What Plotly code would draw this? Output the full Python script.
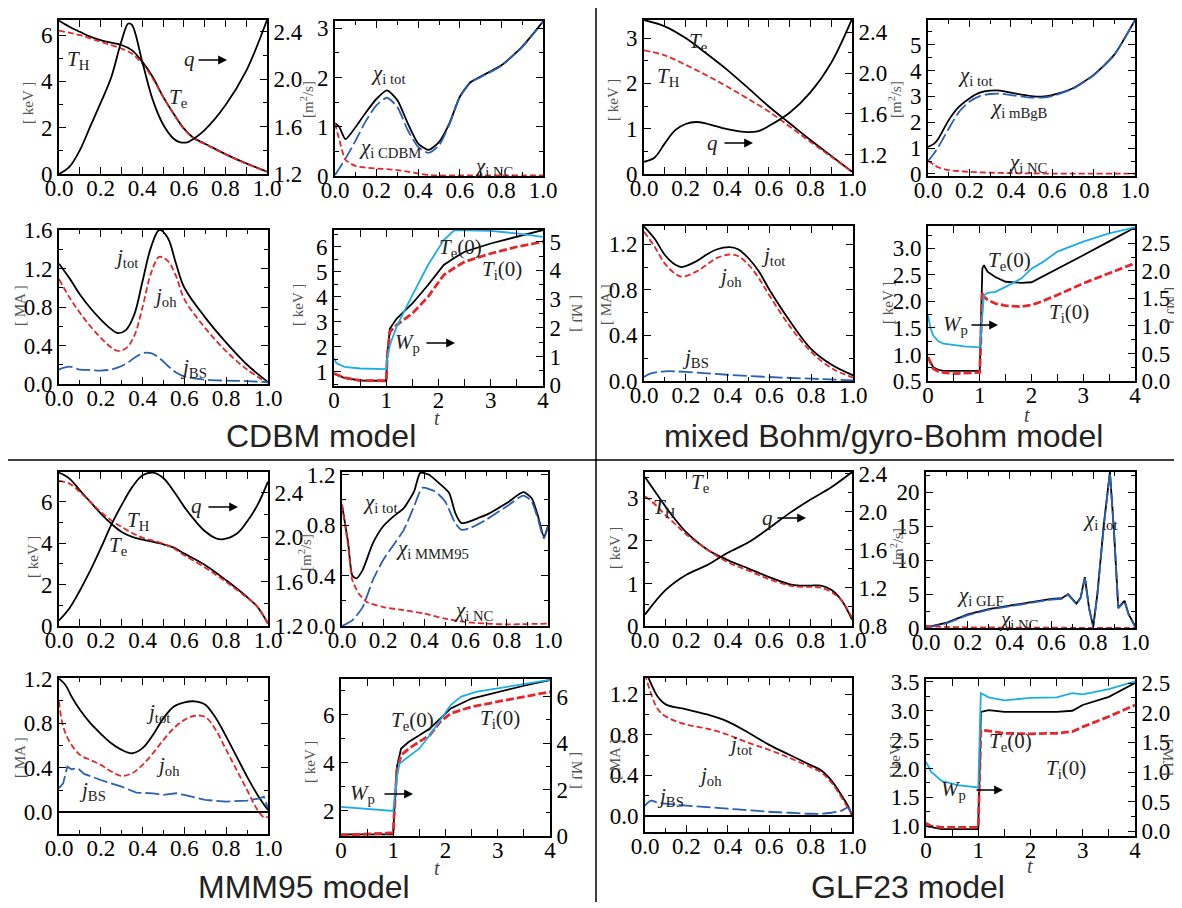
import plotly.graph_objs as go

W, H = 1182, 908
OFF = 8  # page body margin of the html page

BLACK = 'black'
RED = '#e5262b'
BLUE = '#2b5fb4'
CYAN = '#1aaee6'
SERIF = 'Liberation Serif, Times New Roman, serif'
SANS = 'Liberation Sans, Arial, sans-serif'

'''
DATA: read off the picture
'''
# ---- CDBM model ----
cdbm_rho_T = [0, 0.05, 0.1, 0.15, 0.2, 0.25, 0.3, 0.35, 0.4, 0.45, 0.5, 0.55, 0.6, 0.65, 0.7, 0.8, 0.9, 1.0]
cdbm_Te = [6.62, 6.36, 6.14, 5.93, 5.78, 5.67, 5.57, 5.35, 4.85, 4.2, 3.34, 2.62, 1.97, 1.54, 1.32, 0.86, 0.46, 0.1]
cdbm_TH = [6.19, 6.1, 6.0, 5.86, 5.71, 5.57, 5.42, 5.2, 4.78, 4.13, 3.34, 2.6, 1.95, 1.52, 1.3, 0.85, 0.45, 0.1]
cdbm_rho_q = [0, 0.05, 0.1, 0.15, 0.2, 0.25, 0.3, 0.333, 0.35, 0.4, 0.45, 0.5, 0.55, 0.58, 0.62, 0.65, 0.7, 0.8, 0.9, 1.0]
cdbm_q = [1.2, 1.26, 1.4, 1.6, 1.8, 2.01, 2.32, 2.47, 2.46, 2.15, 1.83, 1.62, 1.5, 1.47, 1.47, 1.5, 1.57, 1.78, 2.07, 2.5]

cdbm_rho_chi = [0, 0.02, 0.05, 0.1, 0.15, 0.2, 0.25, 0.3, 0.35, 0.4, 0.45, 0.5, 0.55, 0.6, 0.65, 0.7, 0.8, 0.9, 1.0]
cdbm_chi_tot = [1.07, 1.0, 0.75, 1.0, 1.3, 1.57, 1.74, 1.54, 1.07, 0.66, 0.53, 0.69, 1.07, 1.61, 1.9, 2.02, 2.25, 2.63, 3.14]
cdbm_chi_model = [0.02, 0.15, 0.35, 0.73, 1.13, 1.44, 1.59, 1.4, 0.93, 0.59, 0.47, 0.62, 1.05, 1.6, 1.89, 2.01, 2.24, 2.62, 3.13]
cdbm_chi_nc = [1.07, 0.75, 0.33, 0.2, 0.17, 0.15, 0.14, 0.12, 0.09, 0.05, 0.02, 0.01, 0.01, 0.01, 0.01, 0.01, 0.01, 0.01, 0.01]

cdbm_rho_j = [0, 0.05, 0.1, 0.15, 0.2, 0.25, 0.28, 0.32, 0.36, 0.4, 0.44, 0.48, 0.52, 0.56, 0.6, 0.7, 0.8, 0.9, 1.0]
cdbm_jtot = [1.25, 1.1, 0.93, 0.79, 0.67, 0.57, 0.53, 0.56, 0.72, 1.07, 1.42, 1.6, 1.52, 1.25, 1.0, 0.69, 0.43, 0.2, 0.02]
cdbm_joh = [1.09, 0.9, 0.74, 0.6, 0.48, 0.38, 0.345, 0.37, 0.5, 0.8, 1.15, 1.32, 1.28, 1.12, 0.88, 0.58, 0.34, 0.15, 0.01]
cdbm_jbs = [0.15, 0.18, 0.15, 0.145, 0.14, 0.15, 0.17, 0.21, 0.27, 0.32, 0.32, 0.27, 0.19, 0.12, 0.08, 0.045, 0.035, 0.03, 0.02]

cdbm_t = [0, 0.05, 0.2, 0.5, 1.0, 1.02, 1.07, 1.2, 1.5, 1.8, 2.1, 2.3, 2.5, 3.0, 3.5, 4.0]
cdbm_Te0 = [0.93, 0.88, 0.75, 0.65, 0.64, 1.67, 2.73, 3.13, 3.73, 4.47, 5.27, 5.55, 5.8, 6.13, 6.4, 6.67]
cdbm_Ti0 = [0.93, 0.88, 0.76, 0.65, 0.64, 1.67, 2.6, 2.87, 3.33, 4.0, 4.87, 5.15, 5.4, 5.73, 6.0, 6.2]
cdbm_Wp = [0.93, 0.76, 0.64, 0.58, 0.56, 0.93, 1.4, 2.05, 3.14, 4.19, 5.06, 5.4, 5.4, 5.38, 5.29, 5.17]

# ---- mixed Bohm/gyro-Bohm model ----
mbgb_rho_T = [0, 0.1, 0.2, 0.3, 0.4, 0.5, 0.6, 0.7, 0.8, 0.9, 1.0]
mbgb_Te = [3.4, 3.26, 3.0, 2.66, 2.3, 1.9, 1.49, 1.12, 0.75, 0.4, 0.05]
mbgb_TH = [2.73, 2.62, 2.41, 2.18, 1.93, 1.66, 1.38, 1.05, 0.71, 0.38, 0.05]
mbgb_rho_q = [0, 0.05, 0.1, 0.15, 0.2, 0.25, 0.3, 0.4, 0.5, 0.55, 0.6, 0.7, 0.8, 0.9, 1.0]
mbgb_q = [1.13, 1.17, 1.31, 1.44, 1.5, 1.52, 1.505, 1.45, 1.42, 1.43, 1.48, 1.61, 1.81, 2.1, 2.53]

mbgb_rho_chi = [0, 0.03, 0.05, 0.1, 0.15, 0.2, 0.25, 0.3, 0.35, 0.4, 0.5, 0.55, 0.6, 0.7, 0.8, 0.9, 1.0]
mbgb_chi_tot = [1.04, 1.17, 1.36, 2.08, 2.6, 2.92, 3.14, 3.22, 3.22, 3.14, 3.01, 2.99, 3.05, 3.31, 3.83, 4.61, 5.95]
mbgb_chi_model = [0.49, 0.8, 1.04, 1.75, 2.4, 2.79, 3.01, 3.09, 3.1, 3.05, 2.95, 2.95, 3.01, 3.29, 3.81, 4.6, 5.94]
mbgb_chi_nc = [0.5, 0.35, 0.25, 0.15, 0.11, 0.08, 0.06, 0.05, 0.04, 0.03, 0.02, 0.02, 0.01, 0.01, 0.01, 0.01, 0.01]

mbgb_rho_j = [0, 0.05, 0.1, 0.15, 0.18, 0.25, 0.3, 0.35, 0.41, 0.45, 0.5, 0.55, 0.6, 0.7, 0.8, 0.9, 1.0]
mbgb_jtot = [1.356, 1.25, 1.106, 1.02, 1.0, 1.05, 1.11, 1.156, 1.174, 1.156, 1.077, 0.96, 0.8, 0.52, 0.28, 0.14, 0.05]
mbgb_joh = [1.31, 1.18, 1.03, 0.94, 0.915, 0.96, 1.02, 1.08, 1.11, 1.097, 1.02, 0.9, 0.75, 0.475, 0.255, 0.11, 0.03]
mbgb_rho_jbs = [0, 0.03, 0.1, 0.2, 0.4, 0.6, 0.8, 1.0]
mbgb_jbs = [0.035, 0.065, 0.085, 0.08, 0.055, 0.035, 0.02, 0.006]

mbgb_t = [0, 0.05, 0.1, 0.2, 0.3, 0.5, 0.7, 1.0, 1.05, 1.08, 1.15, 1.3, 1.5, 1.8, 2.0, 2.2, 2.5, 3.0, 3.5, 4.0]
mbgb_Te0 = [0.95, 0.85, 0.76, 0.71, 0.69, 0.69, 0.69, 0.69, 2.62, 2.68, 2.56, 2.46, 2.37, 2.35, 2.36, 2.46, 2.62, 2.87, 3.13, 3.39]
mbgb_Ti0 = [0.95, 0.84, 0.73, 0.68, 0.66, 0.64, 0.65, 0.66, 2.18, 2.09, 2.03, 1.96, 1.92, 1.9, 1.93, 2.0, 2.12, 2.34, 2.53, 2.72]
mbgb_Wp = [1.195, 0.95, 0.83, 0.72, 0.68, 0.65, 0.63, 0.61, 1.32, 1.55, 1.6, 1.62, 1.71, 1.86, 2.04, 2.15, 2.35, 2.53, 2.68, 2.79]

# ---- MMM95 model ----
mmm_rho_T = [0, 0.05, 0.1, 0.15, 0.2, 0.25, 0.3, 0.35, 0.4, 0.5, 0.55, 0.6, 0.7, 0.8, 0.9, 0.95, 1.0]
mmm_Te = [7.42, 7.13, 6.56, 6.0, 5.44, 4.95, 4.55, 4.31, 4.18, 3.95, 3.79, 3.5, 2.94, 2.21, 1.4, 0.92, 0.11]
mmm_TH = [7.02, 6.89, 6.48, 6.0, 5.52, 5.11, 4.79, 4.5, 4.27, 3.98, 3.75, 3.42, 2.82, 2.13, 1.37, 0.92, 0.11]
mmm_rho_q = [0, 0.05, 0.1, 0.15, 0.2, 0.25, 0.3, 0.35, 0.4, 0.45, 0.5, 0.55, 0.6, 0.65, 0.7, 0.75, 0.78, 0.85, 0.9, 0.95, 1.0]
mmm_q = [1.25, 1.36, 1.52, 1.7, 1.9, 2.11, 2.29, 2.45, 2.556, 2.58, 2.53, 2.41, 2.27, 2.15, 2.05, 1.99, 1.98, 2.03, 2.14, 2.29, 2.5]

mmm_rho_chi = [0, 0.03, 0.05, 0.07, 0.1, 0.15, 0.2, 0.25, 0.3, 0.35, 0.38, 0.42, 0.47, 0.52, 0.55, 0.58, 0.62, 0.66, 0.7, 0.8, 0.88, 0.92, 0.95, 0.98, 1.0]
mmm_chi_tot = [0.96, 0.656, 0.4, 0.377, 0.443, 0.656, 0.79, 0.868, 0.934, 1.067, 1.213, 1.2, 1.133, 1.054, 0.895, 0.815, 0.828, 0.855, 0.88, 0.974, 1.06, 1.014, 0.88, 0.709, 0.79]
mmm_rho_chi_model = [0, 0.05, 0.1, 0.15, 0.2, 0.25, 0.3, 0.35, 0.39, 0.45, 0.5, 0.55, 0.58, 0.62, 0.7, 0.8, 0.88, 0.92, 0.95, 0.98, 1.0]
mmm_chi_model = [0, 0.045, 0.15, 0.364, 0.523, 0.642, 0.762, 0.948, 1.094, 1.067, 0.988, 0.815, 0.762, 0.775, 0.842, 0.948, 1.033, 0.988, 0.855, 0.695, 0.79]
mmm_rho_chi_nc = [0, 0.03, 0.05, 0.08, 0.12, 0.2, 0.3, 0.4, 0.5, 0.6, 0.7, 0.8, 1.0]
mmm_chi_nc = [0.96, 0.63, 0.364, 0.26, 0.19, 0.15, 0.125, 0.098, 0.058, 0.032, 0.019, 0.013, 0.019]

mmm_rho_j = [0, 0.03, 0.06, 0.1, 0.15, 0.2, 0.25, 0.3, 0.35, 0.4, 0.45, 0.5, 0.55, 0.6, 0.65, 0.7, 0.75, 0.8, 0.85, 0.9, 0.95, 1.0]
mmm_jtot = [1.2, 1.146, 1.04, 0.92, 0.8, 0.705, 0.62, 0.56, 0.53, 0.576, 0.696, 0.846, 0.95, 0.987, 0.996, 0.966, 0.846, 0.68, 0.5, 0.32, 0.156, 0.02]
mmm_rho_joh = [0, 0.02, 0.05, 0.1, 0.15, 0.2, 0.25, 0.3, 0.35, 0.4, 0.45, 0.5, 0.55, 0.6, 0.65, 0.7, 0.75, 0.8, 0.85, 0.9, 0.95, 0.98, 1.0]
mmm_joh = [0.996, 0.77, 0.636, 0.516, 0.47, 0.426, 0.366, 0.327, 0.351, 0.426, 0.531, 0.65, 0.756, 0.83, 0.867, 0.855, 0.74, 0.56, 0.38, 0.2, 0.02, -0.045, -0.04]
mmm_rho_jbs = [0, 0.02, 0.04, 0.06, 0.09, 0.12, 0.2, 0.3, 0.37, 0.45, 0.5, 0.56, 0.6, 0.7, 0.8, 0.9, 0.96, 0.98, 1.0]
mmm_jbs = [0.216, 0.26, 0.41, 0.387, 0.396, 0.345, 0.29, 0.23, 0.177, 0.17, 0.156, 0.171, 0.156, 0.111, 0.096, 0.105, 0.126, 0.141, 0.036]

mmm_t = [0, 0.5, 1.0, 1.02, 1.07, 1.15, 1.3, 1.5, 1.7, 1.9, 2.1, 2.5, 3.0, 3.5, 4.0]
mmm_Te0 = [1.03, 1.03, 1.03, 2.03, 3.83, 4.59, 4.87, 5.14, 5.42, 5.83, 6.25, 6.66, 6.94, 7.19, 7.43]
mmm_Ti0 = [0.99, 1.03, 1.09, 1.96, 3.69, 4.31, 4.59, 4.87, 5.14, 5.7, 6.04, 6.32, 6.53, 6.73, 6.94]
mmm_t_Wp = [0, 0.5, 1.0, 1.02, 1.07, 1.12, 1.3, 1.5, 1.7, 1.9, 2.1, 2.3, 2.6, 3.0, 3.5, 4.0]
mmm_Wp = [1.25, 1.15, 1.08, 1.54, 2.55, 3.12, 3.41, 3.77, 4.35, 4.99, 5.64, 6.0, 6.22, 6.36, 6.55, 6.72]

# ---- GLF23 model ----
glf_rho_T = [0, 0.05, 0.1, 0.15, 0.2, 0.3, 0.4, 0.5, 0.6, 0.7, 0.75, 0.8, 0.85, 0.9, 0.95, 1.0]
glf_Te = [3.5, 3.15, 2.8, 2.48, 2.2, 1.8, 1.55, 1.35, 1.15, 0.98, 0.95, 0.95, 0.95, 0.85, 0.6, 0.15]
glf_TH = [3.05, 2.85, 2.6, 2.38, 2.15, 1.8, 1.5, 1.3, 1.1, 0.95, 0.92, 0.92, 0.9, 0.8, 0.6, 0.2]
glf_rho_q = [0, 0.1, 0.2, 0.3, 0.4, 0.5, 0.6, 0.7, 0.8, 0.9, 1.0]
glf_q = [0.92, 1.18, 1.34, 1.44, 1.57, 1.68, 1.83, 1.99, 2.13, 2.26, 2.42]

glf_rho_chi = [0, 0.05, 0.1, 0.2, 0.3, 0.4, 0.5, 0.6, 0.65, 0.68, 0.72, 0.74, 0.76, 0.78, 0.8, 0.82, 0.85, 0.88, 0.9, 0.92, 0.95, 0.97, 1.0]
glf_chi_tot = [0.1, 0.4, 0.8, 2.0, 2.8, 3.3, 3.8, 4.3, 4.4, 5.0, 3.6, 4.5, 7.5, 3.0, 0.2, 5.0, 15.0, 23.0, 14.0, 3.0, 4.0, 2.0, 0.3]
glf_chi_model = [0.0, 0.3, 0.7, 1.9, 2.7, 3.2, 3.7, 4.2, 4.3, 4.9, 3.5, 4.4, 7.4, 2.9, 0.1, 4.9, 14.9, 22.9, 13.9, 2.9, 3.9, 1.9, 0.2]
glf_chi_nc = [0.3, 0.2, 0.15, 0.1, 0.08, 0.06, 0.05, 0.04, 0.04, 0.03, 0.03, 0.03, 0.03, 0.03, 0.03, 0.03, 0.03, 0.03, 0.03, 0.03, 0.03, 0.03, 0.03]

glf_rho_j = [0, 0.03, 0.06, 0.1, 0.2, 0.3, 0.4, 0.5, 0.6, 0.7, 0.8, 0.85, 0.9, 0.95, 0.98, 1.0]
glf_jtot = [1.45, 1.3, 1.18, 1.1, 1.05, 1.0, 0.93, 0.82, 0.7, 0.6, 0.5, 0.45, 0.35, 0.2, 0.1, 0.0]
glf_joh = [1.4, 1.2, 1.06, 0.98, 0.9, 0.86, 0.8, 0.72, 0.65, 0.57, 0.48, 0.43, 0.33, 0.18, 0.08, 0.02]
glf_jbs = [0.1, 0.15, 0.13, 0.12, 0.1, 0.085, 0.07, 0.055, 0.04, 0.03, 0.02, 0.02, 0.03, 0.05, 0.08, 0.0]

glf_t = [0, 0.1, 0.3, 0.6, 1.0, 1.05, 1.2, 1.5, 2.0, 2.5, 2.8, 3.0, 3.5, 4.0]
glf_Te0 = [1.0, 0.98, 0.95, 0.95, 0.95, 2.98, 3.01, 2.98, 2.98, 2.98, 3.0, 3.1, 3.24, 3.48]
glf_Ti0 = [1.05, 1.0, 0.98, 0.98, 0.98, 2.67, 2.65, 2.61, 2.6, 2.61, 2.64, 2.72, 2.9, 3.1]
glf_Wp = [1.17, 1.0, 0.85, 0.78, 0.74, 2.33, 2.26, 2.21, 2.25, 2.26, 2.33, 2.31, 2.4, 2.53]


def X(px):
    return (px - OFF) / W


def Y(py):
    return 1 - (py - OFF) / H


'''
LAYOUT: 16 panels, boxes in pixels (left, top, right, bottom)
'''
boxes = [
    (59, 20, 267, 174), (335, 21, 543, 176), (59, 230, 268, 384), (334, 230, 543, 386),
    (644, 20, 852, 174), (928, 20, 1135, 176), (644, 226, 853, 381), (928, 226, 1135, 381),
    (59, 472, 268, 626), (342, 472, 548, 626), (59, 678, 268, 834), (341, 679, 550, 836),
    (645, 472, 852, 626), (926, 472, 1135, 628), (645, 678, 852, 832), (926, 679, 1135, 836),
]
kinds = ['T', 'chi', 'j', 't'] * 4

# y axis settings: (range, dtick, minor, format)
yleft = [
    ([0, 6.65], 2, 1, 'd'), ([0, 3.15], 1, 0.5, 'd'), ([0, 1.6], 0.4, 0.2, '.1f'), ([0.43, 6.67], 1, 0.5, 'd'),
    ([0, 3.4], 1, 0.5, 'd'), ([-0.08, 5.95], 1, 0.5, 'd'), ([0, 1.36], 0.4, 0.2, '.1f'), ([0.5, 3.42], 0.5, 0.25, '.1f'),
    ([0, 7.45], 2, 1, 'd'), ([0, 1.22], 0.4, 0.2, '.1f'), ([-0.195, 1.206], 0.4, 0.2, '.1f'), ([0.96, 7.47], 2, 1, 'd'),
    ([0, 3.62], 1, 0.5, 'd'), ([0, 23], 5, 2.5, 'd'), ([-0.16, 1.36], 0.4, 0.2, '.1f'), ([0.83, 3.55], 0.5, 0.25, '.1f'),
]
yright = {
    0: ([1.2, 2.5], 0.4, 0.2, '.1f'), 3: ([-0.03, 5.41], 1, 0.5, 'd'),
    4: ([1.01, 2.52], 0.4, 0.2, '.1f'), 7: ([0, 2.815], 0.5, 0.25, '.1f'),
    8: ([1.2, 2.586], 0.4, 0.2, '.1f'), 11: ([0, 6.76], 2, 1, 'd'),
    12: ([0.8, 2.42], 0.4, 0.2, '.1f'), 15: ([-0.08, 2.57], 0.5, 0.25, '.1f'),
}
zero_line_panels = [10, 14]

tickfont = dict(family=SERIF, size=23, color='black')


def base_axis():
    return dict(showline=True, linecolor='black', linewidth=2, ticks='inside', ticklen=7,
                tickwidth=1.3, tickcolor='black', showgrid=False, zeroline=False, tickfont=tickfont,
                automargin=False)


layout = dict(width=W, height=H, margin=dict(l=0, r=0, t=0, b=0, pad=0, autoexpand=False),
              paper_bgcolor='white', plot_bgcolor='rgba(0,0,0,0)', showlegend=False, hovermode=False)

sec_id = {}
n_sec = 16
for i, (l, t, r, b) in enumerate(boxes):
    k = i + 1
    sx = '' if k == 1 else str(k)
    xa = base_axis()
    if kinds[i] == 't':
        xa.update(range=[0, 4], dtick=1, tick0=0, tickformat='d',
                  minor=dict(dtick=0.5, ticks='inside', ticklen=4, tickcolor='black'))
    else:
        xa.update(range=[0, 1.0], dtick=0.2, tick0=0, tickformat='.1f',
                  minor=dict(dtick=0.1, ticks='inside', ticklen=4, tickcolor='black'))
    xa.update(domain=[X(l), X(r)], anchor='y' + sx, mirror='allticks', ticklabelstandoff=-8)
    layout['xaxis' + sx] = xa

    rng, dt, mn, fmt = yleft[i]
    ya = base_axis()
    ya.update(domain=[Y(b), Y(t)], anchor='x' + sx, range=rng, dtick=dt, tick0=0,
              tickformat=fmt, minor=dict(dtick=mn, ticks='inside', ticklen=4, tickcolor='black'),
              mirror=False if i in yright else 'allticks')
    if i in zero_line_panels:
        ya.update(zeroline=True, zerolinecolor='black', zerolinewidth=1.5)
    layout['yaxis' + sx] = ya

    if i in yright:
        n_sec += 1
        sec_id[i] = n_sec
        rng, dt, mn, fmt = yright[i]
        ys = base_axis()
        ys.update(overlaying='y' + sx, side='right', anchor='x' + sx, range=rng, dtick=dt, tick0=0,
                  tickformat=fmt, minor=dict(dtick=mn, ticks='inside', ticklen=4, tickcolor='black'))
        layout['yaxis' + str(n_sec)] = ys

fig = go.Figure(layout=layout)

SHORT = '6px,3px'
LONG = '14px,4px'
THICK = '8px,3px'


def add(panel, x, y, color, dash='solid', width=1.8, right=False, shape='spline', smooth=1.0):
    k = panel + 1
    xa = 'x' if k == 1 else 'x' + str(k)
    if right:
        ya = 'y' + str(sec_id[panel])
    else:
        ya = 'y' if k == 1 else 'y' + str(k)
    line = dict(color=color, dash=dash, width=width, shape=shape)
    if shape == 'spline':
        line['smoothing'] = smooth
    fig.add_trace(go.Scatter(x=x, y=y, mode='lines', line=line, xaxis=xa, yaxis=ya))


# each model: panel offset, data
models = [
    (0, cdbm_rho_T, cdbm_Te, cdbm_TH, cdbm_rho_q, cdbm_q,
     cdbm_rho_chi, cdbm_chi_tot, cdbm_rho_chi, cdbm_chi_model, cdbm_rho_chi, cdbm_chi_nc,
     cdbm_rho_j, cdbm_jtot, cdbm_rho_j, cdbm_joh, cdbm_rho_j, cdbm_jbs,
     cdbm_t, cdbm_Te0, cdbm_t, cdbm_Ti0, cdbm_t, cdbm_Wp),
    (4, mbgb_rho_T, mbgb_Te, mbgb_TH, mbgb_rho_q, mbgb_q,
     mbgb_rho_chi, mbgb_chi_tot, mbgb_rho_chi, mbgb_chi_model, mbgb_rho_chi, mbgb_chi_nc,
     mbgb_rho_j, mbgb_jtot, mbgb_rho_j, mbgb_joh, mbgb_rho_jbs, mbgb_jbs,
     mbgb_t, mbgb_Te0, mbgb_t, mbgb_Ti0, mbgb_t, mbgb_Wp),
    (8, mmm_rho_T, mmm_Te, mmm_TH, mmm_rho_q, mmm_q,
     mmm_rho_chi, mmm_chi_tot, mmm_rho_chi_model, mmm_chi_model, mmm_rho_chi_nc, mmm_chi_nc,
     mmm_rho_j, mmm_jtot, mmm_rho_joh, mmm_joh, mmm_rho_jbs, mmm_jbs,
     mmm_t, mmm_Te0, mmm_t, mmm_Ti0, mmm_t_Wp, mmm_Wp),
    (12, glf_rho_T, glf_Te, glf_TH, glf_rho_q, glf_q,
     glf_rho_chi, glf_chi_tot, glf_rho_chi, glf_chi_model, glf_rho_chi, glf_chi_nc,
     glf_rho_j, glf_jtot, glf_rho_j, glf_joh, glf_rho_j, glf_jbs,
     glf_t, glf_Te0, glf_t, glf_Ti0, glf_t, glf_Wp),
]

for m in models:
    p = m[0]
    chi_shape = 'linear' if p == 12 else 'spline'
    # temperatures and q
    add(p, m[1], m[2], BLACK)
    add(p, m[4], m[5], BLACK, right=True)
    add(p, m[1], m[3], RED, dash=SHORT)
    # diffusivities
    add(p + 1, m[6], m[7], BLACK, shape=chi_shape, smooth=0.6)
    add(p + 1, m[8], m[9], BLUE, dash=LONG, shape=chi_shape, smooth=0.6)
    add(p + 1, m[10], m[11], RED, dash=SHORT, smooth=0.6)
    # currents
    add(p + 2, m[12], m[13], BLACK)
    add(p + 2, m[14], m[15], RED, dash=SHORT)
    add(p + 2, m[16], m[17], BLUE, dash=LONG, shape='linear' if p == 8 else 'spline')
    # time traces
    add(p + 3, m[22], m[23], CYAN, right=True, shape='linear')
    add(p + 3, m[18], m[19], BLACK, shape='linear')
    add(p + 3, m[20], m[21], RED, dash=THICK, width=2.8, shape='linear')

'''
TEXT
'''
ann = []


def note(txt, x, y, font, angle=0):
    ann.append(dict(text=txt, x=X(x), y=Y(y), xref='paper', yref='paper', showarrow=False,
                    xanchor='center', yanchor='middle', textangle=angle, font=font))


lab = dict(family=SERIF, size=21, color='#222')
labels = [
    ('<i>T</i><sub>H</sub>', 78, 60), ('<i>T</i><sub>e</sub>', 178, 98), ('<i>q</i>', 189, 59),
    ('<i>χ</i><sub>i tot</sub>', 388, 74), ('<i>χ</i><sub>i CDBM</sub>', 390, 148), ('<i>χ</i><sub>i NC</sub>', 493, 167),
    ('<i>j</i><sub>tot</sub>', 126, 258), ('<i>j</i><sub>oh</sub>', 165, 297), ('<i>j</i><sub>BS</sub>', 193, 368),
    ('<i>T</i><sub>e</sub>(0)', 460, 248), ('<i>T</i><sub>i</sub>(0)', 502, 270), ('<i>W</i><sub>p</sub>', 407, 343),
    ('<i>T</i><sub>e</sub>', 698, 42), ('<i>T</i><sub>H</sub>', 668, 77), ('<i>q</i>', 712, 143),
    ('<i>χ</i><sub>i tot</sub>', 975, 76), ('<i>χ</i><sub>i mBgB</sub>', 1019, 108), ('<i>χ</i><sub>i NC</sub>', 1027, 163),
    ('<i>j</i><sub>tot</sub>', 773, 256), ('<i>j</i><sub>oh</sub>', 730, 277), ('<i>j</i><sub>BS</sub>', 695, 358),
    ('<i>T</i><sub>e</sub>(0)', 1009, 261), ('<i>T</i><sub>i</sub>(0)', 1069, 313), ('<i>W</i><sub>p</sub>', 955, 325),
    ('<i>T</i><sub>H</sub>', 138, 521), ('<i>T</i><sub>e</sub>', 118, 546), ('<i>q</i>', 196, 506),
    ('<i>χ</i><sub>i tot</sub>', 380, 503), ('<i>χ</i><sub>i MMM95</sub>', 432, 549), ('<i>χ</i><sub>i NC</sub>', 473, 611),
    ('<i>j</i><sub>tot</sub>', 158, 713), ('<i>j</i><sub>oh</sub>', 168, 766), ('<i>j</i><sub>BS</sub>', 92, 791),
    ('<i>T</i><sub>e</sub>(0)', 412, 721), ('<i>T</i><sub>i</sub>(0)', 500, 719), ('<i>W</i><sub>p</sub>', 362, 794),
    ('<i>T</i><sub>e</sub>', 700, 483), ('<i>T</i><sub>H</sub>', 665, 508), ('<i>q</i>', 767, 518),
    ('<i>χ</i><sub>i tot</sub>', 1100, 520), ('<i>χ</i><sub>i GLF</sub>', 980, 596), ('<i>χ</i><sub>i NC</sub>', 1018, 620),
    ('<i>j</i><sub>tot</sub>', 740, 745), ('<i>j</i><sub>oh</sub>', 710, 776), ('<i>j</i><sub>BS</sub>', 670, 797),
    ('<i>T</i><sub>e</sub>(0)', 1010, 742), ('<i>T</i><sub>i</sub>(0)', 1066, 769), ('<i>W</i><sub>p</sub>', 953, 790),
]
for txt, x, y in labels:
    note(txt, x, y, lab)

# arrows (head x, y, tail length)
arrows = [(227, 60, 30), (753, 143, 30), (238, 507, 31), (455, 343, 30), (998, 325, 28),
          (413, 794, 30), (806, 518, 30), (1003, 790, 28)]
for x, y, L in arrows:
    ann.append(dict(text='', x=X(x), y=Y(y), xref='paper', yref='paper', ax=-L, ay=0, showarrow=True,
                    arrowhead=2, arrowsize=1.1, arrowwidth=1.6, arrowcolor='black'))

# axis titles
atf = dict(family=SERIF, size=15, color='#555')
axis_titles = [
    ('[ keV ]', 28, 103, -90), ('[m<sup>2</sup>/s]', 307, 100, -90), ('[ MA ]', 20, 305, -90),
    ('[ keV ]', 298, 305, -90), ('[ MJ ]', 577, 313, 90),
    ('[ keV ]', 613, 100, -90), ('[m<sup>2</sup>/s]', 895, 100, -90), ('[ MA ]', 606, 305, -90),
    ('[ keV ]', 888, 303, -90), ('[ MJ ]', 1172, 305, 90),
    ('[ keV ]', 33, 557, -90), ('[m<sup>2</sup>/s]', 305, 553, -90), ('[ MA ]', 20, 757, -90),
    ('[ keV ]', 310, 762, -90), ('[ MJ ]', 577, 770, 90),
    ('[ keV ]', 615, 548, -90), ('[m<sup>2</sup>/s]', 897, 547, -90), ('[ MA ]', 615, 760, -90),
    ('[ keV ]', 895, 757, -90), ('[ MJ ]', 1168, 757, 90),
]
for txt, x, y, ang in axis_titles:
    note(txt, x, y, atf, ang)
for x, y in [(437, 418), (1027, 415), (437, 868), (1030, 866)]:
    note('<i>t</i>', x, y, dict(family=SERIF, size=20, color='#444'))

# model titles
titles = [('CDBM model', 321, 436), ('mixed Bohm/gyro-Bohm model', 883, 436),
          ('MMM95 model', 304, 887), ('GLF23 model', 908, 887)]
for txt, x, y in titles:
    note(txt, x, y, dict(family=SANS, size=32, color='#222'))

fig.update_layout(annotations=ann)

# quadrant dividers
fig.add_shape(type='line', xref='paper', yref='paper', x0=X(596), x1=X(596), y0=Y(8), y1=Y(902),
              line=dict(color='black', width=1.5))
fig.add_shape(type='line', xref='paper', yref='paper', x0=X(0), x1=X(1182), y0=Y(460), y1=Y(460),
              line=dict(color='black', width=1.5))

fig.write_html("out.html")
